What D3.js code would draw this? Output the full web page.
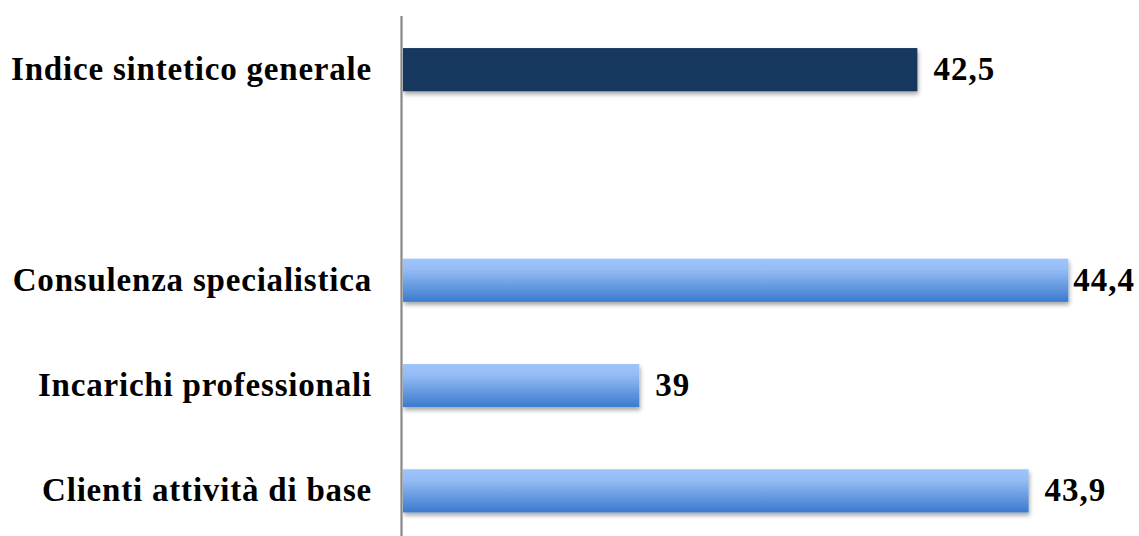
<!DOCTYPE html>
<html>
<head>
<meta charset="utf-8">
<script src="https://cdn.jsdelivr.net/npm/d3@7"></script>
<style>
  html, body { margin: 0; padding: 0; background: #fff; }
  svg { display: block; }
  .label { font-family: "Liberation Serif", serif; font-weight: bold; font-size: 33px; fill: #000; }
</style>
</head>
<body>
<svg id="chart"></svg>
<script>
// categories top to bottom, blank slot between the index and the others
const categories = ['Indice sintetico generale', ' ', 'Consulenza specialistica', 'Incarichi professionali', 'Clienti attività di base'];
const values = [42.5, null, 44.4, 39, 43.9];
const highlight = ['Indice sintetico generale'];

const width = 1139, height = 536;
const svg = d3.select('#chart').attr('width', width).attr('height', height);

const x = d3.scaleLinear()
  .domain([36, 45])
  .range([401, 1116]);

const y = d3.scaleBand()
  .domain(categories)
  .range([17, 543.5])
  .paddingInner(0.59)
  .paddingOuter(0.295);

const fmt = d3.formatLocale({ decimal: ',', thousands: '.', grouping: [3], currency: ['€', ''] }).format('~g');

const defs = svg.append('defs');
const grad = defs.append('linearGradient')
  .attr('id', 'barGrad')
  .attr('x1', 0).attr('y1', 0).attr('x2', 0).attr('y2', 1);
grad.append('stop').attr('offset', '0%').attr('stop-color', '#9ec4fc');
grad.append('stop').attr('offset', '25%').attr('stop-color', '#95bcf5');
grad.append('stop').attr('offset', '100%').attr('stop-color', '#3a7acd');

const shadow = defs.append('filter')
  .attr('id', 'shadow')
  .attr('x', '-5%').attr('y', '-20%').attr('width', '110%').attr('height', '150%');
shadow.append('feDropShadow')
  .attr('dx', 1).attr('dy', 3)
  .attr('stdDeviation', 2)
  .attr('flood-color', '#000')
  .attr('flood-opacity', 0.35);

const data = categories.map((c, i) => ({ cat: c, value: values[i] })).filter(d => d.value != null);

svg.append('g')
  .selectAll('rect')
  .data(data)
  .join('rect')
  .attr('x', x(36) + 2)
  .attr('y', d => y(d.cat))
  .attr('width', d => x(d.value) - x(36) - 2)
  .attr('height', y.bandwidth())
  .attr('fill', d => highlight.includes(d.cat) ? '#17375e' : 'url(#barGrad)')
  .attr('filter', 'url(#shadow)');

// vertical category axis line
svg.append('line')
  .attr('x1', x(36) + 0.5).attr('x2', x(36) + 0.5)
  .attr('y1', 16).attr('y2', height)
  .attr('stroke', '#888')
  .attr('stroke-width', 2.2);

// category labels
svg.append('g')
  .selectAll('text')
  .data(data)
  .join('text')
  .attr('class', 'label')
  .attr('x', 372)
  .attr('y', d => y(d.cat) + y.bandwidth() / 2)
  .attr('dy', '0.32em')
  .attr('text-anchor', 'end')
  .style('letter-spacing', '0.8px')
  .text(d => d.cat);

// value labels, pushed inward when they would leave the chart
svg.append('g')
  .selectAll('text')
  .data(data)
  .join('text')
  .attr('class', 'label')
  .attr('y', d => y(d.cat) + y.bandwidth() / 2)
  .attr('dy', '0.32em')
  .style('letter-spacing', '1px')
  .text(d => fmt(d.value))
  .attr('x', function (d) {
    const w = this.getComputedTextLength();
    return Math.min(x(d.value) + 16, width - 4 - w);
  });
</script>
</body>
</html>
